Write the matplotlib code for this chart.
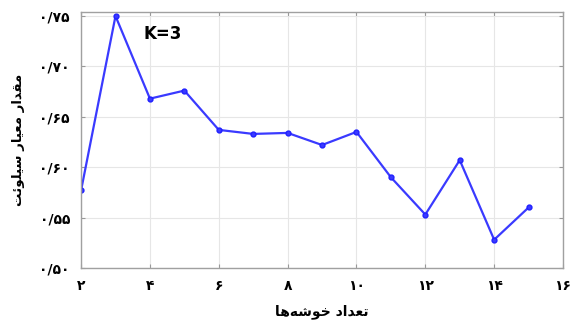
import matplotlib
matplotlib.use("Agg")
import matplotlib.pyplot as plt

clusters = [2, 3, 4, 5, 6, 7, 8, 9, 10, 11, 12, 13, 14, 15]
silhouette = [0.577, 0.750, 0.668, 0.676, 0.637, 0.633, 0.634, 0.622, 0.635, 0.590, 0.553, 0.607, 0.528, 0.560]

x_ticks = [2, 4, 6, 8, 10, 12, 14, 16]
y_ticks = [0.50, 0.55, 0.60, 0.65, 0.70, 0.75]

x_title = "تعداد خوشه\u200cها"
y_title = "مقدار معیار سیلوئت"

# isolated, final, initial, medial presentation forms
FORMS = {
    "ا": ("\uFE8D", "\uFE8E", None, None),
    "د": ("\uFEA9", "\uFEAA", None, None),
    "ر": ("\uFEAD", "\uFEAE", None, None),
    "و": ("\uFEED", "\uFEEE", None, None),
    "ت": ("\uFE95", "\uFE96", "\uFE97", "\uFE98"),
    "ع": ("\uFEC9", "\uFECA", "\uFECB", "\uFECC"),
    "خ": ("\uFEA5", "\uFEA6", "\uFEA7", "\uFEA8"),
    "ش": ("\uFEB5", "\uFEB6", "\uFEB7", "\uFEB8"),
    "ه": ("\uFEE9", "\uFEEA", "\uFEEB", "\uFEEC"),
    "م": ("\uFEE1", "\uFEE2", "\uFEE3", "\uFEE4"),
    "ق": ("\uFED5", "\uFED6", "\uFED7", "\uFED8"),
    "ی": ("\uFBFC", "\uFBFD", "\uFEF3", "\uFEF4"),
    "س": ("\uFEB1", "\uFEB2", "\uFEB3", "\uFEB4"),
    "ل": ("\uFEDD", "\uFEDE", "\uFEDF", "\uFEE0"),
    "ئ": ("\uFE89", "\uFE8A", "\uFE8B", "\uFE8C"),
}


def dual(c):
    return c in FORMS and FORMS[c][2] is not None


def shape(text):
    out = []
    for i, c in enumerate(text):
        if c not in FORMS:
            if c != "\u200c":
                out.append(c)
            continue
        prev_j = i > 0 and dual(text[i - 1])
        next_j = dual(c) and i + 1 < len(text) and text[i + 1] in FORMS
        iso, fin, ini, med = FORMS[c]
        if prev_j and next_j:
            out.append(med)
        elif prev_j:
            out.append(fin)
        elif next_j:
            out.append(ini)
        else:
            out.append(iso)
    return "".join(reversed(out))


def fa_digits(s):
    return s.translate(str.maketrans("0123456789.", "۰۱۲۳۴۵۶۷۸۹/"))


fig = plt.figure(figsize=(5.71, 3.24), dpi=100)
ax = fig.add_axes([0.142, 0.173, 0.844, 0.790])

ax.plot(clusters, silhouette, color="#3a3aff", lw=1.6, marker="o",
        markersize=3.5, markerfacecolor="#3a3aff", markeredgecolor="#2020ff")

ax.set_xlim(2, 16)
ax.set_ylim(0.50, 0.754)
ax.set_xticks(x_ticks)
ax.set_yticks(y_ticks)
ax.set_xticklabels([fa_digits(str(v)) for v in x_ticks], fontweight="bold", fontsize=10)
ax.set_yticklabels([fa_digits(f"{v:.2f}") for v in y_ticks], fontweight="bold", fontsize=10)

ax.grid(True, color="#e6e6e6", lw=0.8)
ax.tick_params(direction="in", length=3, color="#999999", top=True, right=True,
               labeltop=False, labelright=False, pad=8)
for s in ax.spines.values():
    s.set_color("#a0a0a0")
    s.set_linewidth(1.0)

ax.text(3.8, 0.732, "K=3", fontsize=12, fontweight="bold", ha="left", va="center")

ax.set_xlabel(shape(x_title), fontweight="bold", fontsize=10, labelpad=8)
ax.set_ylabel(shape(y_title), fontweight="bold", fontsize=9.5, labelpad=10)

fig.savefig("out.png", dpi=100)
